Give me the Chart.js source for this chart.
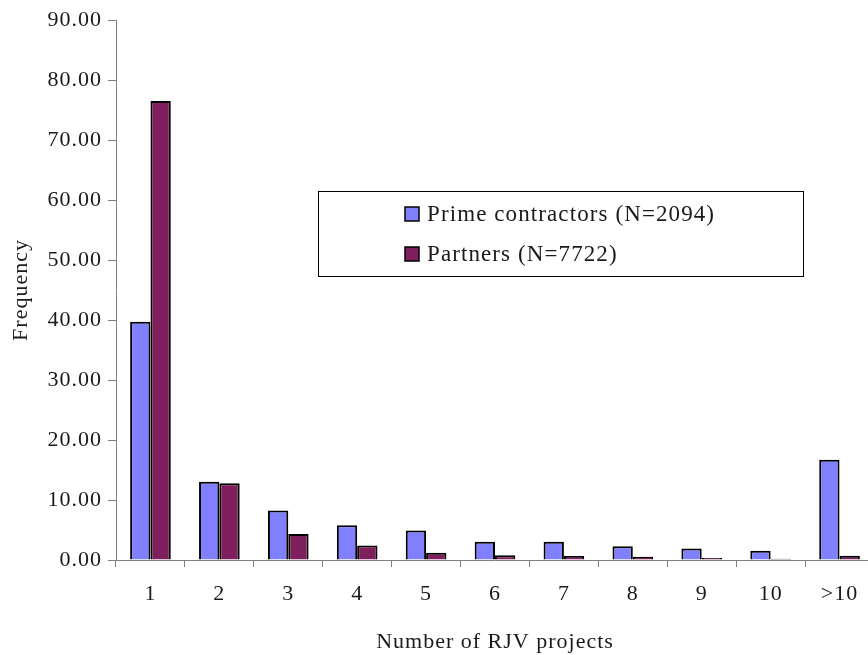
<!DOCTYPE html>
<html>
<head>
<meta charset="utf-8">
<script src="https://cdn.jsdelivr.net/npm/chart.js@4"></script>
<style>
html,body{margin:0;padding:0;background:#fff;overflow:hidden;}
#wrap{width:868px;height:655px;position:relative;overflow:hidden;}
#c{position:absolute;left:0;top:0;}
</style>
</head>
<body>
<div id="wrap"><canvas id="c" width="874" height="655"></canvas></div>
<script>
const categories = ['1','2','3','4','5','6','7','8','9','10','>10'];
const primeContractors = [39.7, 13.05, 8.25, 5.8, 4.9, 3.05, 3.05, 2.3, 1.9, 1.55, 16.7];
const partners = [76.5, 12.8, 4.35, 2.4, 1.2, 0.8, 0.65, 0.55, 0.35, 0.2, 0.7];
const seriesLabels = ['Prime contractors (N=2094)', 'Partners (N=7722)'];
const seriesColors = ['#8080FF', '#801F5E'];
const yTicks = [0, 10, 20, 30, 40, 50, 60, 70, 80, 90];

const FONT = "'Liberation Serif', 'DejaVu Serif', serif";
const SPACING = '1px';

const spacingPlugin = {
  id: 'spacing',
  beforeLayout(chart) { chart.ctx.letterSpacing = SPACING; },
  beforeDraw(chart) { chart.ctx.letterSpacing = SPACING; }
};

const boxLegend = {
  id: 'boxLegend',
  afterDraw(chart) {
    const ctx = chart.ctx;
    ctx.save();
    const x0 = 318, y0 = 191, w = 485, h = 85;
    ctx.fillStyle = '#fff';
    ctx.fillRect(x0, y0, w, h);
    ctx.strokeStyle = '#000';
    ctx.lineWidth = 1;
    ctx.strokeRect(x0 + 0.5, y0 + 0.5, w, h);
    ctx.font = "23px " + FONT;
    ctx.letterSpacing = '1.1px';
    ctx.textBaseline = 'middle';
    chart.data.datasets.forEach((ds, i) => {
      const cy = 214 + i * 40;
      ctx.fillStyle = ds.backgroundColor;
      ctx.fillRect(405, cy - 7, 14, 14);
      ctx.strokeStyle = '#000';
      ctx.lineWidth = 1.5;
      ctx.strokeRect(405, cy - 7, 14, 14);
      ctx.fillStyle = '#1a1a1a';
      ctx.fillText(ds.label, 427, cy + 1);
    });
    ctx.restore();
  }
};

new Chart(document.getElementById('c'), {
  type: 'bar',
  data: {
    labels: categories,
    datasets: [
      { label: seriesLabels[0], data: primeContractors, backgroundColor: seriesColors[0], borderColor: '#000', borderWidth: 2, borderSkipped: 'bottom' },
      { label: seriesLabels[1], data: partners, backgroundColor: seriesColors[1], borderColor: '#000', borderWidth: 2, borderSkipped: 'bottom' }
    ]
  },
  options: {
    responsive: false,
    animation: false,
    devicePixelRatio: 1,
    layout: { padding: { left: 0, right: 0, top: 20, bottom: 0 } },
    plugins: { legend: { display: false }, tooltip: { enabled: false } },
    datasets: { bar: { categoryPercentage: 0.59, barPercentage: 1.0 } },
    scales: {
      x: {
        grid: { display: true, drawOnChartArea: false, offset: true, tickLength: 7, color: '#808080', lineWidth: 1 },
        border: { display: true, color: '#808080', width: 1 },
        ticks: { color: '#1a1a1a', font: { family: FONT, size: 22 }, padding: 14, maxRotation: 0 },
        title: { display: true, text: 'Number of RJV projects', color: '#1a1a1a', font: { family: FONT, size: 22 }, padding: { top: 7, bottom: 0 } },
        afterFit(scale) { scale.height = 95; }
      },
      y: {
        min: 0, max: 90,
        afterBuildTicks(scale) { scale.ticks = yTicks.map(v => ({ value: v })); },
        grid: { display: true, drawOnChartArea: false, tickLength: 8, color: '#808080', lineWidth: 1 },
        border: { display: true, color: '#808080', width: 1 },
        ticks: { color: '#1a1a1a', font: { family: FONT, size: 22 }, padding: 6, callback: v => Number(v).toFixed(2) },
        title: { display: true, text: 'Frequency', color: '#1a1a1a', font: { family: FONT, size: 22 }, padding: { top: 8, bottom: 0 } },
        afterFit(scale) { scale.width = 116; }
      }
    }
  },
  plugins: [spacingPlugin, boxLegend]
});
</script>
</body>
</html>
